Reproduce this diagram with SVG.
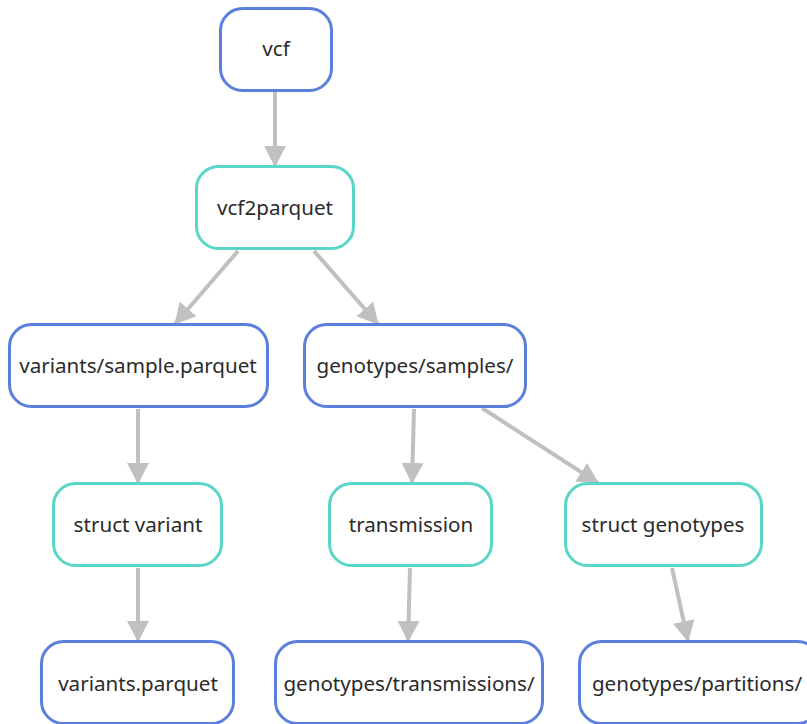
<svg xmlns="http://www.w3.org/2000/svg" width="807" height="724" viewBox="0 0 807 724">
<defs>
<style>
.n rect{fill:#fff;stroke-width:3}
.io rect{stroke:#5b7fdc}
.job rect{stroke:#5ad6c8}
.n text{font-family:"Noto Sans","Open Sans",sans-serif;font-size:20.6px;fill:#2b2b2b;text-anchor:middle;dominant-baseline:central}
.e{stroke:#c0c0c0;stroke-width:4;fill:none}
</style>
<marker id="ah" markerUnits="userSpaceOnUse" markerWidth="22" markerHeight="22" refX="20" refY="11" orient="auto">
<path d="M0,0 L21,11 L0,22 z" fill="#c0c0c0"/>
</marker>
</defs>
<rect width="807" height="724" fill="#fff"/>
<g id="edges">
<line class="e" x1="275" y1="91" x2="275" y2="166" marker-end="url(#ah)"/>
<line class="e" x1="238" y1="251" x2="175" y2="324" marker-end="url(#ah)"/>
<line class="e" x1="314" y1="251" x2="378" y2="324" marker-end="url(#ah)"/>
<line class="e" x1="138" y1="409" x2="138" y2="483" marker-end="url(#ah)"/>
<line class="e" x1="414" y1="409" x2="412" y2="483" marker-end="url(#ah)"/>
<line class="e" x1="482" y1="408" x2="598" y2="483" marker-end="url(#ah)"/>
<line class="e" x1="138" y1="568" x2="138" y2="641" marker-end="url(#ah)"/>
<line class="e" x1="410" y1="568" x2="408" y2="641" marker-end="url(#ah)"/>
<line class="e" x1="672" y1="568" x2="688" y2="641" marker-end="url(#ah)"/>
</g>
<g id="vcf" class="n io"><rect x="220.5" y="8.5" width="111" height="82" rx="22"/><text x="276" y="48">vcf</text></g>
<g id="vcf2parquet" class="n job"><rect x="196.5" y="166.5" width="157" height="82" rx="22"/><text x="275" y="207">vcf2parquet</text></g>
<g id="variants_sample" class="n io"><rect x="9.5" y="324.5" width="258" height="82" rx="22"/><text x="138" y="365">variants/sample.parquet</text></g>
<g id="genotypes_samples" class="n io"><rect x="304.5" y="324.5" width="221" height="82" rx="22"/><text x="415" y="365">genotypes/samples/</text></g>
<g id="struct_variant" class="n job"><rect x="53.5" y="483.5" width="168" height="82" rx="22"/><text x="138" y="524">struct variant</text></g>
<g id="transmission" class="n job"><rect x="329.5" y="483.5" width="162" height="82" rx="22"/><text x="411" y="524">transmission</text></g>
<g id="struct_genotypes" class="n job"><rect x="565.5" y="483.5" width="196" height="82" rx="22"/><text x="663" y="524">struct genotypes</text></g>
<g id="variants_parquet" class="n io"><rect x="41.5" y="641.5" width="192" height="82" rx="22"/><text x="138" y="683">variants.parquet</text></g>
<g id="genotypes_transmissions" class="n io"><rect x="275.5" y="641.5" width="267" height="82" rx="22"/><text x="409" y="683">genotypes/transmissions/</text></g>
<g id="genotypes_partitions" class="n io"><rect x="579.5" y="641.5" width="240" height="82" rx="22"/><text x="697" y="683">genotypes/partitions/</text></g>
</svg>
